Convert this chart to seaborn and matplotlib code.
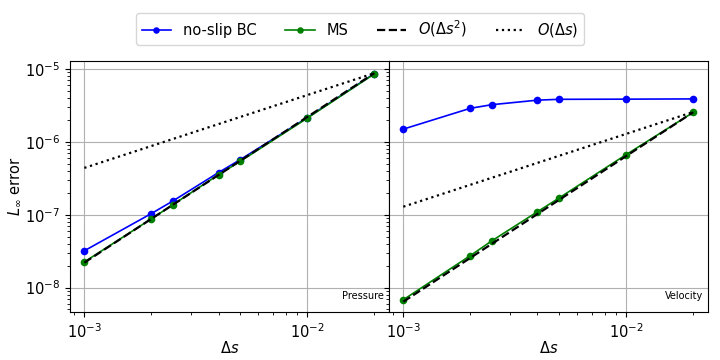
import numpy as np
import pandas as pd
import seaborn as sns
import matplotlib
matplotlib.use("Agg")
import matplotlib.pyplot as plt

ds = [1e-3, 2e-3, 2.5e-3, 4e-3, 5e-3, 1e-2, 2e-2]

p_noslip = [3.2e-8, 1.04e-7, 1.55e-7, 3.8e-7, 5.7e-7, 2.15e-6, 8.7e-6]
p_ms = [2.25e-8, 8.8e-8, 1.38e-7, 3.55e-7, 5.4e-7, 2.12e-6, 8.6e-6]
p_o2 = [2.2e-8, 8.8e-6]
p_o1 = [4.4e-7, 8.8e-6]

v_noslip = [1.5e-6, 2.9e-6, 3.25e-6, 3.75e-6, 3.85e-6, 3.87e-6, 3.9e-6]
v_ms = [6.8e-9, 2.75e-8, 4.4e-8, 1.1e-7, 1.7e-7, 6.7e-7, 2.55e-6]
v_o2 = [6.4e-9, 2.56e-6]
v_o1 = [1.29e-7, 2.58e-6]

ref_x = [1e-3, 2e-2]
panel_titles = ["Pressure", "Velocity"]

plt.rcParams["font.family"] = ["DejaVu Sans"]
plt.rcParams["mathtext.fontset"] = "dejavusans"

fig, axes = plt.subplots(1, 2, figsize=(7.2, 3.6), dpi=100, sharey=True)
fig.subplots_adjust(left=0.097, right=0.983, top=0.831, bottom=0.133, wspace=0.0)

panels = [(p_noslip, p_ms, p_o2, p_o1), (v_noslip, v_ms, v_o2, v_o1)]
for ax, (ns, ms, o2, o1), title in zip(axes, panels, panel_titles):
    df = pd.DataFrame({"ds": ds, "noslip": ns, "ms": ms})
    sns.lineplot(data=df, x="ds", y="noslip", ax=ax, color="blue", marker="o",
                 markersize=5.5, markeredgewidth=0, linewidth=1.2, label="no-slip BC")
    sns.lineplot(data=df, x="ds", y="ms", ax=ax, color="green", marker="o",
                 markersize=5.5, markeredgewidth=0, linewidth=1.2, label="MS")
    ax.plot(ref_x, o2, color="black", linestyle="--", linewidth=1.6, label=r"$O(\Delta s^2)$")
    ax.plot(ref_x, o1, color="black", linestyle=":", linewidth=1.6, label=r"$O(\Delta s)$")
    ax.set_xscale("log")
    ax.set_yscale("log")
    ax.grid(True, which="major", color="#b0b0b0", linewidth=0.8)
    ax.set_axisbelow(True)
    ax.set_xlabel(r"$\Delta s$", fontsize=10.5)
    ax.xaxis.set_label_coords(0.5, -0.112)
    ax.tick_params(axis="both", which="major", labelsize=10.5)
    ax.text(0.985, 0.045, title, transform=ax.transAxes, ha="right", va="bottom", fontsize=7)
    ax.get_legend().remove()

axes[0].set_ylabel(r"$L_\infty$ error", fontsize=10.5)
axes[0].yaxis.set_label_coords(-0.148, 0.5)
axes[1].set_ylabel("")
axes[0].set_ylim(4.6e-9, 1.3e-5)

handles, labels = axes[0].get_legend_handles_labels()
leg = fig.legend(handles, labels, loc="upper center", ncol=4, bbox_to_anchor=(0.5, 0.985),
                 fontsize=10.5, frameon=True, handlelength=2.0, columnspacing=2.0, markerscale=0.85)

fig.savefig("out.png", dpi=100)
